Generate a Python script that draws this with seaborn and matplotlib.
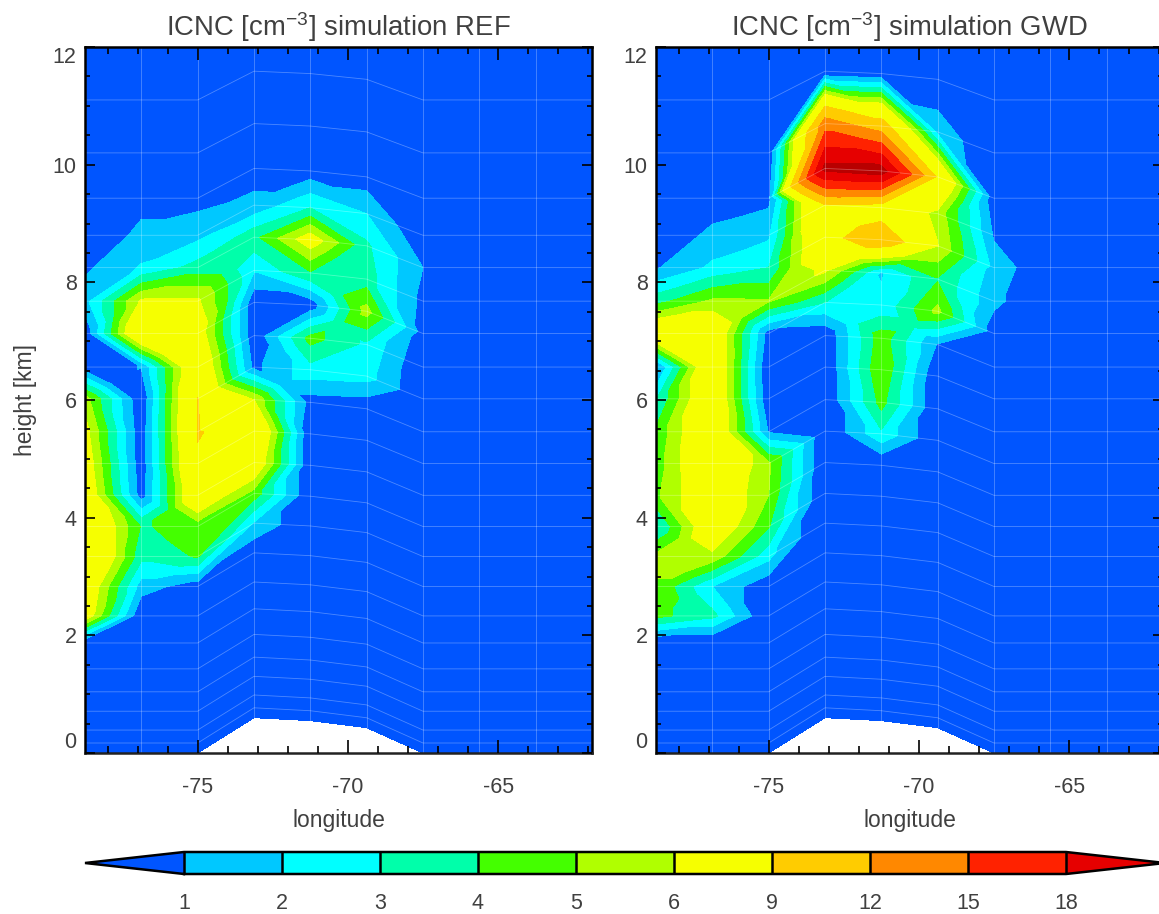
import numpy as np
import seaborn as sns
import matplotlib.pyplot as plt
import matplotlib.colors as mcolors
import matplotlib.tri as mtri
from matplotlib.ticker import MultipleLocator

# model grid
lon = [-78.75, -76.875, -75.0, -73.125, -71.25, -69.375, -67.5, -65.625, -63.75, -61.875]
ground = [0, 0, 0, 0.6, 0.55, 0.43, 0, 0, 0, 0]
level_km = [0, 0.17, 0.39, 0.71, 1.04, 1.43, 1.87, 2.33, 2.83, 3.34, 3.85, 4.38,
            4.92, 5.46, 6.02, 6.56, 7.13, 7.68, 8.25, 8.8, 9.43, 10.2, 11.1, 12.3]

# ICNC per longitude column, bottom level to top level
ref_icnc = [
    [0, 0, 0, 0, 0, 0, 0, 7, 7.5, 9.15, 8.5, 7.5, 7, 6.5, 5.5, 0.3, 0.2, 1.6, 0.8, 0, 0, 0, 0, 0],
    [0, 0, 0, 0, 0, 0, 0, 0, 1.5, 3.3, 3.9, 0.5, 0.3, 0.3, 0.1, 1.05, 8.4, 6.2, 2.1, 1.3, 0.6, 0, 0, 0],
    [0, 0, 0, 0, 0, 0, 0, 0, 0.4, 4.1, 4.4, 8, 8.8, 9.1, 9.05, 8, 7, 6.2, 3.4, 1.7, 0.6, 0, 0, 0],
    [0, 0, 0, 0, 0, 0, 0, 0, 0.2, 1.9, 4.6, 7.6, 8.5, 6, 0.7, 0.2, 0.2, 2.1, 3.7, 1.3, 0.5, 0, 0, 0],
    [0, 0, 0, 0, 0, 0, 0, 0, 0, 0, 0, 0, 0, 0.5, 2.6, 4.4, 0.3, 3.9, 6.8, 3, 0.4, 0, 0, 0],
    [0, 0, 0, 0, 0, 0, 0, 0, 0, 0, 0, 0, 0, 0.2, 2.4, 2.8, 5.4, 3.5, 3.2, 2, 0.4, 0, 0, 0],
    [0, 0, 0, 0, 0, 0, 0, 0, 0, 0, 0, 0, 0, 0, 0, 0.06, 0.52, 0.68, 1, 0.14, 0, 0, 0, 0],
    [0] * 24,
    [0] * 24,
    [0] * 24,
]
gwd_icnc = [
    [0, 0, 0, 0, 0, 0, 0, 4.3, 4.9, 5.3, 2.8, 4.8, 4.5, 4.2, 2.9, 0.7, 8, 3.6, 0.9, 0, 0, 0, 0, 0],
    [0, 0, 0, 0, 0, 0, 0, 3.3, 2, 5.7, 7.5, 7.5, 8, 8, 8, 8, 7.8, 5.2, 2.2, 1.3, 0.3, 0, 0, 0],
    [0, 0, 0, 0, 0, 0, 0, 0, 0.2, 2.3, 4.1, 5, 5.2, 0.9, 0.1, 0, 0.5, 5.1, 3, 1.8, 0.7, 0, 0, 0],
    [0, 0, 0, 0, 0, 0, 0, 0, 0, 0, 0, 0, 0, 0, 0, 0.1, 3, 6.2, 8, 8.9, 22, 13.5, 0, 0],
    [0, 0, 0, 0, 0, 0, 0, 0, 0, 0, 0, 0, 2.8, 4.4, 4.95, 4.6, 2.2, 1.9, 11, 7.5, 22.5, 10.5, 0.2, 0],
    [0, 0, 0, 0, 0, 0, 0, 0, 0, 0, 0, 0, 0, 0, 0, 0.9, 5.3, 3.9, 6.05, 5.7, 8.7, 1.7, 0, 0],
    [0, 0, 0, 0, 0, 0, 0, 0, 0, 0, 0, 0, 0, 0, 0, 0, 0.4, 1.25, 1.65, 0.85, 0.3, 0.1, 0, 0],
    [0] * 24,
    [0] * 24,
    [0] * 24,
]

bar_levels = [1, 2, 3, 4, 5, 6, 9, 12, 15, 18]
fill_levels = [-1] + bar_levels + [21, 60]
fill_hex = ["#0055ff", "#00c8ff", "#00ffff", "#00ffaa", "#44ff00", "#b0ff00", "#f6ff00",
            "#ffcc00", "#ff8800", "#ff2200", "#e60000", "#b80000"]
titles = ["ICNC [cm$^{-3}$] simulation REF", "ICNC [cm$^{-3}$] simulation GWD"]

sns.set_style("ticks")
plt.rcParams["font.family"] = ["Liberation Sans", "DejaVu Sans"]
plt.rcParams["mathtext.fontset"] = "custom"
plt.rcParams["mathtext.rm"] = "Liberation Sans"
plt.rcParams["mathtext.default"] = "regular"
plt.rcParams["axes.unicode_minus"] = False

palette = sns.color_palette(fill_hex)
GREY = "#404040"
W, H = 1159, 914

# terrain following mesh, the terrain bump fades slowly with height
lon_arr = np.array(lon)
lev = np.array(level_km)
gr = np.array(ground)
zz = lev + np.outer(gr, 1 - lev / 60)
xx = np.repeat(lon_arr[:, None], len(lev), axis=1)
nx, nz = zz.shape


def split_cells(v):
    # each cell becomes four triangles around a centre node holding the median of its corners
    px = list(xx.ravel())
    pz = list(zz.ravel())
    pv = list(v.ravel())
    tris = []
    for i in range(nx - 1):
        for k in range(nz - 1):
            a = i * nz + k
            b = (i + 1) * nz + k
            c = (i + 1) * nz + k + 1
            d = i * nz + k + 1
            m = len(px)
            px.append((px[a] + px[b] + px[c] + px[d]) / 4)
            pz.append((pz[a] + pz[b] + pz[c] + pz[d]) / 4)
            pv.append(np.median([pv[a], pv[b], pv[c], pv[d]]))
            tris += [[a, b, m], [b, c, m], [c, d, m], [d, a, m]]
    return mtri.Triangulation(px, pz, np.array(tris)), np.array(pv)


fig = plt.figure(figsize=(W / 100, H / 100), dpi=100)


def panel(left, values, title):
    ax = fig.add_axes([left / W, 1 - 753 / H, 507 / W, 706 / H])
    mesh, node_v = split_cells(np.array(values, dtype=float))
    ax.tricontourf(mesh, node_v, levels=fill_levels, colors=palette)
    for k in range(1, nz):
        ax.plot(lon_arr, zz[:, k], color="white", lw=0.6, alpha=0.3)
    for i in range(nx):
        ax.plot(xx[i], zz[i], color="white", lw=0.6, alpha=0.3)
    ax.set_axisbelow(False)
    ax.set_xlim(lon[0], lon[-1])
    ax.set_ylim(0, 12)
    ax.set_xticks([-75, -70, -65])
    ax.set_yticks([0, 2, 4, 6, 8, 10, 12])
    ax.xaxis.set_minor_locator(MultipleLocator(1))
    ax.yaxis.set_minor_locator(MultipleLocator(0.5))
    ax.tick_params(which="both", direction="in", top=True, right=True, color="black", width=1.2)
    ax.tick_params(axis="x", which="major", length=9.5, pad=17, labelsize=15.5, labelcolor=GREY)
    ax.tick_params(axis="y", which="major", length=7.2, pad=6, labelsize=15.5, labelcolor=GREY)
    ax.tick_params(axis="x", which="minor", length=5)
    ax.tick_params(axis="y", which="minor", length=3.6)
    ticks = ax.yaxis.get_major_ticks()
    ticks[0].label1.set_verticalalignment("bottom")
    ticks[-1].label1.set_verticalalignment("top")
    for s in ax.spines.values():
        s.set_linewidth(1.8)
        s.set_color("black")
    ax.spines["bottom"].set_color("#222222")
    ax.set_xlabel("longitude", fontsize=16.5, color=GREY, labelpad=8)
    ax.set_title(title, fontsize=19.8, color=GREY, pad=8)
    return ax


ax1 = panel(85, ref_icnc, titles[0])
ax2 = panel(656, gwd_icnc, titles[1])
ax1.set_ylabel("height [km]", fontsize=16.5, color=GREY, labelpad=11)

# colour bar with equal sized boxes
cax = fig.add_axes([85 / W, 1 - 874 / H, 1080 / W, 22 / H])
bar_cmap = mcolors.ListedColormap(palette[1:10])
bar_cmap.set_under(palette[0])
bar_cmap.set_over(palette[10])
norm = mcolors.BoundaryNorm(bar_levels, bar_cmap.N)
sm = plt.cm.ScalarMappable(norm=norm, cmap=bar_cmap)
cb = fig.colorbar(sm, cax=cax, orientation="horizontal", extend="both", spacing="uniform",
                  extendfrac=99 / 882, drawedges=True, ticks=bar_levels)
cb.outline.set_linewidth(1.8)
cb.outline.set_edgecolor("black")
cb.dividers.set_linewidth(1.8)
cb.dividers.set_color("black")
cb.ax.tick_params(length=0, pad=14, labelsize=15.5, labelcolor=GREY)
cb.ax.set_xticklabels([str(v) for v in bar_levels])

fig.savefig("out.png", dpi=100)
